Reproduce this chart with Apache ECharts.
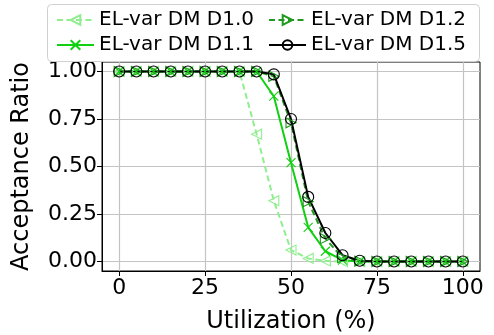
<!DOCTYPE html>
<html>
<head>
<meta charset="utf-8">
<script src="https://cdn.jsdelivr.net/npm/echarts@6/dist/echarts.min.js"></script>
<style>html,body{margin:0;padding:0;background:#fff;}#c{width:494px;height:335px;}</style>
</head>
<body>
<div id="c"></div>
<script>
const utilization = [0,5,10,15,20,25,30,35,40,45,50,55,60,65,70,75,80,85,90,95,100];
const d10 = [1,1,1,1,1,1,1,1,0.67,0.32,0.06,0.016,0.003,0,0,0,0,0,0,0,0];
const d11 = [1,1,1,1,1,1,1,1,1,0.87,0.52,0.18,0.054,0.007,0,0,0,0,0,0,0];
const d12 = [1,1,1,1,1,1,1,1,1,0.975,0.73,0.315,0.12,0.02,0.002,0,0,0,0,0,0];
const d15 = [1,1,1,1,1,1,1,1,1,0.985,0.75,0.34,0.15,0.033,0.004,0,0,0,0,0,0];
const xTicks = [0,25,50,75,100];
const yTicks = [0,0.25,0.5,0.75,1];
const names = ['EL-var DM D1.0','EL-var DM D1.1','EL-var DM D1.2','EL-var DM D1.5'];

const FONT = 'DejaVu Sans';
const triLeft = 'path://M0,5 L10,0 L10,10 Z';
const triRight = 'path://M10,5 L0,0 L0,10 Z';
const xMark = 'path://M0,0 L10,10 M10,0 L0,10';

function pairs(ys){ return utilization.map((x,i)=>[x, ys[i]]); }

function mk(name, ys, color, dashed, symbol, size){
  return {
    name: name, type: 'line', data: pairs(ys),
    symbol: symbol, symbolSize: size, showSymbol: true,
    lineStyle: {color: color, width: 2, type: dashed ? [6,3.5] : 'solid'},
    itemStyle: {color: 'none', borderColor: color, borderWidth: 1.1},
    emphasis: {disabled: true},
    animation: false
  };
}

const chart = echarts.init(document.getElementById('c'), null, {renderer: 'canvas'});
chart.setOption({
  animation: false,
  textStyle: {fontFamily: FONT},
  grid: {left: 102, right: 14, top: 62, bottom: 64, show: true, borderColor: '#000', borderWidth: 1,
         backgroundColor: 'transparent', outerBoundsMode: 'none', containLabel: false},
  legend: [
    {data: [names[0], names[1]], orient: 'vertical', left: 51, top: 5, itemWidth: 37, itemHeight: 12, itemGap: 5,
     textStyle: {fontFamily: FONT, fontSize: 20, color: '#000'}, selectedMode: false},
    {data: [names[2], names[3]], orient: 'vertical', left: 263, top: 5, itemWidth: 37, itemHeight: 12, itemGap: 5,
     textStyle: {fontFamily: FONT, fontSize: 20, color: '#000'}, selectedMode: false}
  ],
  graphic: [{type: 'rect', left: 45, top: 2, shape: {width: 432, height: 57, r: 4}, style: {fill: 'none', stroke: '#d0d0d0', lineWidth: 1}, z: 100}],
  xAxis: {
    type: 'value', min: -5, max: 105,
    name: 'Utilization (%)', nameLocation: 'middle', nameGap: 39,
    nameTextStyle: {fontFamily: FONT, fontSize: 24, color: '#000'},
    axisLine: {show: true, onZero: false, lineStyle: {color: '#000', width: 1}},
    axisTick: {show: true, length: 5, lineStyle: {color: '#000'}, customValues: xTicks},
    axisLabel: {fontFamily: FONT, fontSize: 22, color: '#000', margin: 6, customValues: xTicks},
    splitLine: {show: true, lineStyle: {color: '#c4c4c4', width: 1.2}}
  },
  yAxis: {
    type: 'value', min: -0.05, max: 1.05,
    name: 'Acceptance Ratio', nameLocation: 'middle', nameGap: 68, nameRotate: 90,
    nameTextStyle: {fontFamily: FONT, fontSize: 24, color: '#000'},
    axisLine: {show: true, onZero: false, lineStyle: {color: '#000', width: 1}},
    axisTick: {show: true, length: 5, lineStyle: {color: '#000'}, customValues: yTicks},
    axisLabel: {fontFamily: FONT, fontSize: 22, color: '#000', margin: 5, customValues: yTicks,
      formatter: v => v.toFixed(2)},
    splitLine: {show: true, lineStyle: {color: '#c4c4c4', width: 1.2}}
  },
  series: [
    mk(names[0], d10, '#90ee90', true, triLeft, 10),
    mk(names[1], d11, '#11d011', false, xMark, 9),
    mk(names[2], d12, '#1f9a1f', true, triRight, 10),
    mk(names[3], d15, '#000000', false, 'circle', 11)
  ]
});
</script>
</body>
</html>
